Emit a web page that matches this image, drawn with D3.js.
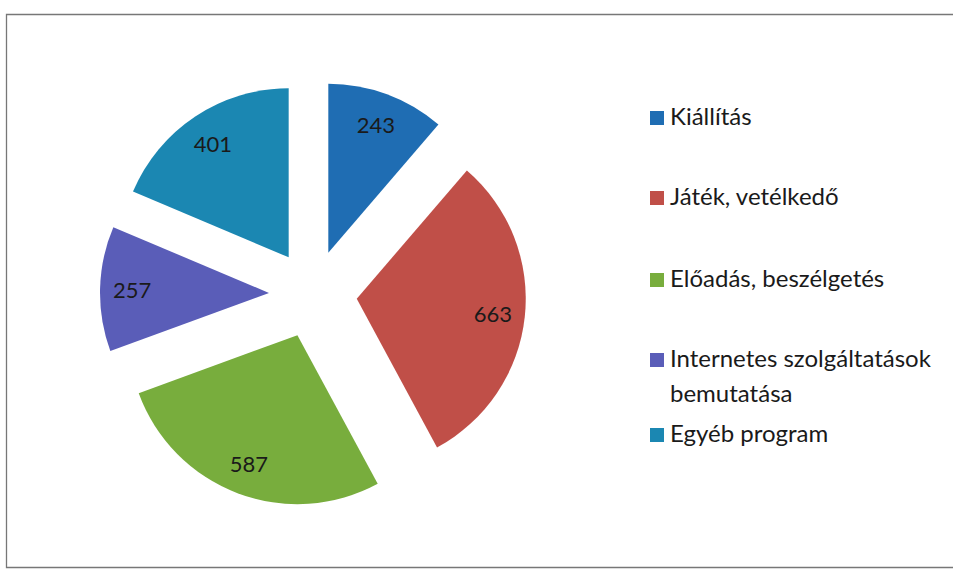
<!DOCTYPE html>
<html>
<head>
<meta charset="utf-8">
<script src="https://cdn.jsdelivr.net/npm/d3@7"></script>
<style>
  body { margin: 0; background: #fff; }
  svg { display: block; font-family: Lato, "Open Sans", sans-serif; }
</style>
</head>
<body>
<div id="chart"></div>
<script>
const categories = ["Kiállítás", "Játék, vetélkedő", "Előadás, beszélgetés", "Internetes szolgáltatások bemutatása", "Egyéb program"];
const values = [243, 663, 587, 257, 401];
const colors = ["#1f6db3", "#c04f48", "#78ad3d", "#5a5db8", "#1b87b2"];
// legend lines (long names wrap in two lines like in the original)
const legendLines = [["Kiállítás"], ["Játék, vetélkedő"], ["Előadás, beszélgetés"], ["Internetes szolgáltatások", "bemutatása"], ["Egyéb program"]];

const W = 953, H = 569;
const svg = d3.select("#chart").append("svg")
    .attr("width", W)
    .attr("height", H);

// frame
svg.append("path")
    .attr("d", `M${W + 5},14.5 H6.5 V567.5 H${W + 5}`)
    .attr("fill", "none")
    .attr("stroke", "#777")
    .attr("stroke-width", 1.3);

const cx = 313, cy = 294, radius = 169, explode = 44, labelR = 137;

const data = categories.map((c, i) => ({ name: c, value: values[i], color: colors[i] }));

const pie = d3.pie().value(d => d.value).sort(null);
const arc = d3.arc().innerRadius(0).outerRadius(radius);
const arcs = pie(data);

const g = svg.append("g").attr("transform", `translate(${cx},${cy})`);

const slice = g.selectAll(".slice")
    .data(arcs)
    .join("g")
    .attr("class", "slice")
    .attr("transform", d => {
        const a = (d.startAngle + d.endAngle) / 2;
        return `translate(${Math.sin(a) * explode},${-Math.cos(a) * explode})`;
    });

slice.append("path")
    .attr("d", arc)
    .attr("fill", d => d.data.color);

slice.append("text")
    .attr("x", d => Math.sin((d.startAngle + d.endAngle) / 2) * labelR)
    .attr("y", d => -Math.cos((d.startAngle + d.endAngle) / 2) * labelR)
    .attr("text-anchor", "middle")
    .attr("dominant-baseline", "central")
    .style("font-size", "22px")
    .style("fill", "#1a1a1a")
    .text(d => d.data.value);

// Legend
const legendY = [125, 205, 287, 367, 442];
const legend = svg.append("g").attr("class", "legend");

legendLines.forEach((lines, i) => {
    const item = legend.append("g").attr("transform", `translate(650,${legendY[i]})`);
    item.append("rect")
        .attr("x", 0)
        .attr("y", -14)
        .attr("width", 14)
        .attr("height", 14)
        .attr("fill", colors[i]);
    lines.forEach((t, j) => {
        item.append("text")
            .attr("x", 20)
            .attr("y", j * 35)
            .style("font-size", "24px")
            .style("fill", "#1a1a1a")
            .text(t);
    });
});
</script>
</body>
</html>
